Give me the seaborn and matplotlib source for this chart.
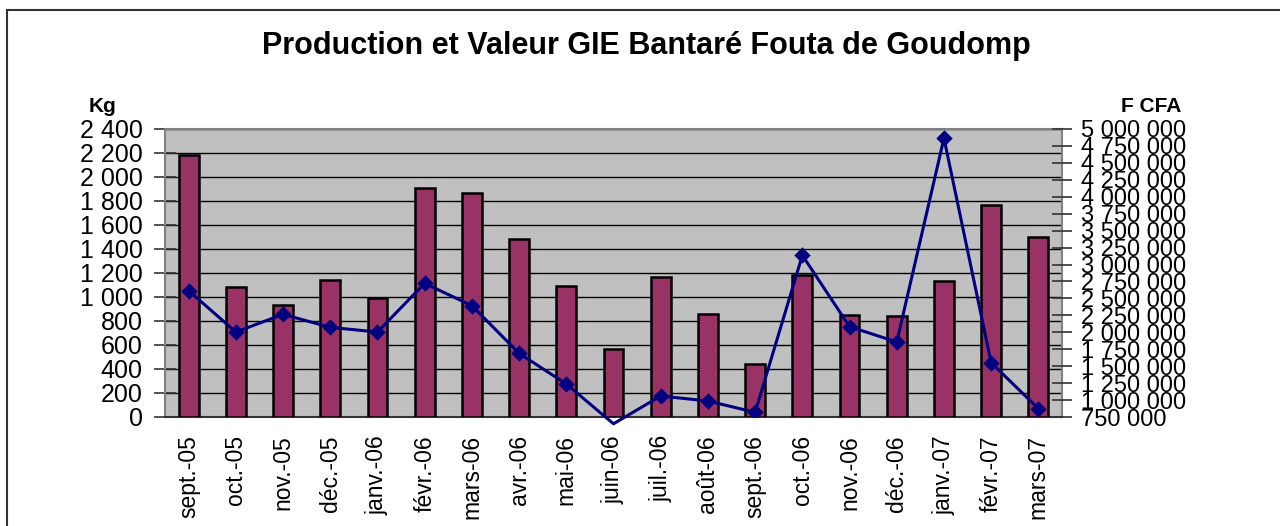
import matplotlib

matplotlib.use("Agg")
import matplotlib.pyplot as plt
from matplotlib.patches import Rectangle
from matplotlib.ticker import FixedLocator, FuncFormatter
import numpy as np
import seaborn as sns

# Monthly production (kg) and value (F CFA)
months = [
    "sept.-05", "oct.-05", "nov.-05", "déc.-05", "janv.-06", "févr.-06",
    "mars-06", "avr.-06", "mai-06", "juin-06", "juil.-06", "août-06",
    "sept.-06", "oct.-06", "nov.-06", "déc.-06", "janv.-07", "févr.-07",
    "mars-07",
]
production_kg = [
    2185, 1080, 935, 1142, 990, 1912, 1865, 1485, 1092, 565,
    1170, 856, 440, 1184, 848, 842, 1132, 1765, 1504,
]
valeur_fcfa = [
    2614000, 2004000, 2265000, 2073000, 2004000, 2722000, 2393000,
    1690000, 1237000, 650000, 1060000, 986000, 819000, 3136000,
    2083000, 1857000, 4863000, 1551000, 873000,
]

kg_ticks = list(range(0, 2401, 200))
fcfa_ticks = list(range(750000, 5000001, 250000))

BAR_COLOR = "#993366"
LINE_COLOR = "#000080"
PLOT_BG = "#C0C0C0"

sns.set_style("white")
plt.rcParams["font.family"] = ["Liberation Sans", "DejaVu Sans"]
plt.rcParams["text.color"] = "black"
plt.rcParams["xtick.labelcolor"] = "black"
plt.rcParams["ytick.labelcolor"] = "black"


def space_thousands(v, pos=None):
    return f"{v:,.0f}".replace(",", " ")


fig = plt.figure(figsize=(12.8, 5.26), dpi=100)
ax = fig.add_axes([165 / 1280, 1 - 417 / 526, 897 / 1280, 288 / 526])
ax.set_facecolor(PLOT_BG)

# Bars on the left (kg) axis
sns.barplot(
    x=months,
    y=production_kg,
    ax=ax,
    color=BAR_COLOR,
    saturation=1,
    width=0.42,
    edgecolor="black",
    linewidth=1.8,
    zorder=3,
)

ax.set_xlim(-0.5, len(months) - 0.5)
ax.set_ylim(0, 2400)
ax.set_yticks(kg_ticks)
ax.yaxis.set_major_formatter(FuncFormatter(space_thousands))
ax.grid(axis="y", color="black", linewidth=1.0, zorder=1)
ax.grid(axis="x", visible=False)
ax.set_axisbelow(True)
ax.set_xlabel("")
ax.set_ylabel("")

# Category labels without marks, boundary ticks as minor ticks
ax.tick_params(axis="x", which="major", length=0, pad=13, labelsize=16.5,
               labelrotation=90, labelcolor="black")
ax.xaxis.set_minor_locator(FixedLocator(np.arange(-0.5, len(months), 1.0)))
ax.tick_params(axis="x", which="minor", length=7, width=1.2, color="#555555",
               direction="out")
ax.tick_params(axis="y", which="major", length=16, width=1.2, color="#333333",
               direction="inout", pad=8, labelsize=18, labelcolor="black")
for side in ["left", "top", "right"]:
    ax.spines[side].set_color("#808080")
    ax.spines[side].set_linewidth(1.5)
ax.spines["bottom"].set_color("#333333")
ax.spines["bottom"].set_linewidth(1.5)

# Value line on the right (F CFA) axis
ax2 = ax.twinx()
x_pos = np.arange(len(months))
sns.lineplot(
    x=x_pos,
    y=valeur_fcfa,
    ax=ax2,
    color=LINE_COLOR,
    linewidth=2.2,
    clip_on=False,
    zorder=4,
)
sns.scatterplot(
    x=x_pos,
    y=valeur_fcfa,
    ax=ax2,
    color=LINE_COLOR,
    marker="D",
    s=70,
    linewidth=0,
    zorder=5,
)
ax2.set_ylim(750000, 5000000)
ax2.set_yticks(fcfa_ticks)
ax2.yaxis.set_major_formatter(FuncFormatter(space_thousands))
ax2.tick_params(axis="y", which="major", length=14, width=1.2, color="#333333",
                direction="inout", pad=6.5, labelsize=17, labelcolor="black")
ax2.set_xlim(-0.5, len(months) - 0.5)
ax2.set_ylabel("")
for side in ["left", "top", "right", "bottom"]:
    ax2.spines[side].set_visible(False)

# Titles and axis captions
fig.text(646 / 1280, 1 - 46 / 526,
         "Production et Valeur GIE Bantaré Fouta de Goudomp",
         ha="center", va="center", fontsize=22, fontweight="bold")
fig.text(102 / 1280, 1 - 107 / 526, "Kg", ha="center", va="center",
         fontsize=15, fontweight="bold")
fig.text(1151 / 1280, 1 - 107 / 526, "F CFA", ha="center", va="center",
         fontsize=15, fontweight="bold")

# Outer chart frame (runs off the bottom and right of the image)
fig.patches.append(
    Rectangle((7 / 1280, -0.1), 1.2, 1 - 10 / 526 + 0.1,
              transform=fig.transFigure, fill=False,
              edgecolor="#333333", linewidth=1.5)
)

fig.savefig("out.png", dpi=100)
